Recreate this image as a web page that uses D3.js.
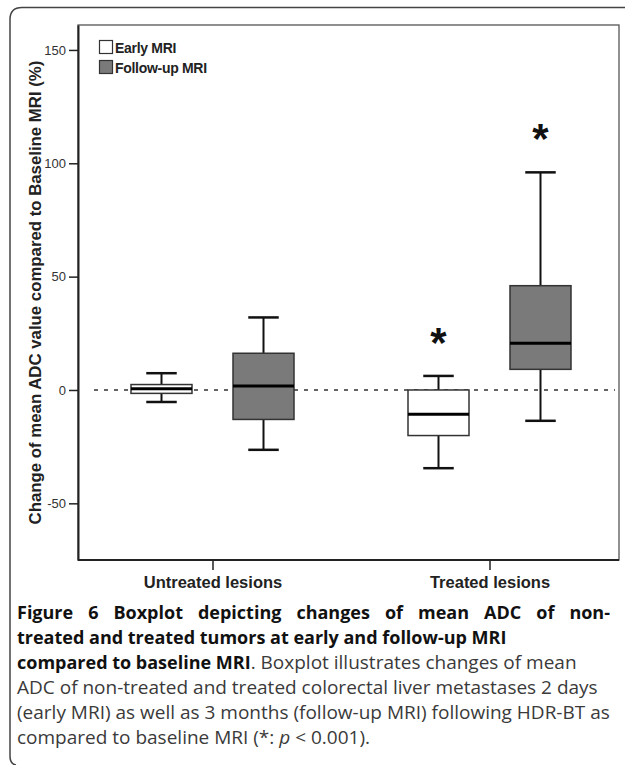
<!DOCTYPE html>
<html>
<head>
<meta charset="utf-8">
<script src="https://cdn.jsdelivr.net/npm/d3@7"></script>
<style>
  body { margin: 0; background: #fff; }
  svg { display: block; }
</style>
</head>
<body>
<div id="chart"></div>
<script>
// Data
const groups = ["Untreated lesions", "Treated lesions"];
const series = ["Early MRI", "Follow-up MRI"];
const boxGroup = ["Untreated lesions", "Untreated lesions", "Treated lesions", "Treated lesions"];
const boxSeries = ["Early MRI", "Follow-up MRI", "Early MRI", "Follow-up MRI"];
const whiskerMin = [-5.3, -26.4, -34.5, -13.6];
const q1 = [-1.5, -13.0, -20.1, 9.1];
const median = [0.5, 1.8, -10.7, 20.6];
const q3 = [2.4, 16.2, 0.0, 46.0];
const whiskerMax = [7.4, 32.0, 6.2, 96.0];
const significant = [false, false, true, true];
const yTicks = [-50, 0, 50, 100, 150];

const captionLines = [
  [{t: "Figure 6 Boxplot depicting changes of mean ADC of non-", b: true}],
  [{t: "treated and treated tumors at early and follow-up MRI", b: true}],
  [{t: "compared to baseline MRI", b: true}, {t: ". Boxplot illustrates changes of mean"}],
  [{t: "ADC of non-treated and treated colorectal liver metastases 2 days"}],
  [{t: "(early MRI) as well as 3 months (follow-up MRI) following HDR-BT as"}],
  [{t: "compared to baseline MRI (*: "}, {t: "p", i: true}, {t: " < 0.001)."}]
];

let svgWidth = 625;
let svgHeight = 765;

let margin = {top: 25, right: 6, bottom: 205, left: 78};
let width = svgWidth - margin.left - margin.right;
let height = svgHeight - margin.top - margin.bottom;

let svg = d3.select("#chart")
  .append("svg")
  .attr("width", svgWidth)
  .attr("height", svgHeight);

// outer figure frame (top + left, rounded corners)
svg.append("path")
  .attr("d", "M625,7.5 H22 Q10,7.5 10,19.5 V756 Q10,764 16,765")
  .attr("fill", "none")
  .attr("stroke", "#444")
  .attr("stroke-width", 1.5);

let chartGroup = svg.append("g")
  .attr("transform", `translate(${margin.left}, ${margin.top})`);

// scales
let yScale = d3.scaleLinear()
  .domain([-75, 161])
  .range([height, 0]);

let xGroup = d3.scalePoint()
  .domain(groups)
  .range([134.5, 411.5]);

let xInner = d3.scalePoint()
  .domain(series)
  .range([-51, 51]);

let boxW = 61;
let fills = d3.scaleOrdinal().domain(series).range(["#ffffff", "#7a7a7a"]);

// plot frame
chartGroup.append("rect")
  .attr("x", 0).attr("y", 0)
  .attr("width", width).attr("height", height)
  .attr("fill", "none")
  .attr("stroke", "#555")
  .attr("stroke-width", 1.3);

// axes
let leftAxis = d3.axisLeft(yScale).tickValues(yTicks).tickFormat(d => String(d))
  .tickSize(9).tickSizeOuter(0).tickPadding(3);
let yAxisG = chartGroup.append("g").call(leftAxis);
yAxisG.select(".domain").attr("stroke", "#222").attr("stroke-width", 2);
yAxisG.selectAll(".tick line").attr("stroke", "#222").attr("stroke-width", 1.5);
yAxisG.selectAll(".tick text")
  .attr("font-family", "Liberation Sans, Arial, sans-serif")
  .attr("font-size", "13px")
  .attr("fill", "#333");

let bottomAxis = d3.axisBottom(xGroup).tickSize(10).tickSizeOuter(0).tickPadding(6);
let xAxisG = chartGroup.append("g")
  .attr("transform", `translate(0, ${height})`)
  .call(bottomAxis);
xAxisG.select(".domain").attr("d", `M0,0H${width}`).attr("stroke", "#222").attr("stroke-width", 2);
xAxisG.selectAll(".tick line").attr("stroke", "#222").attr("stroke-width", 1.5);
xAxisG.selectAll(".tick text")
  .attr("font-family", "Liberation Sans Narrow, Arial Narrow, Liberation Sans, sans-serif")
  .attr("font-weight", "bold")
  .attr("font-size", "16.5px")
  .attr("fill", "#222");

// reference line at 0
chartGroup.append("line")
  .attr("x1", 16).attr("x2", width - 4)
  .attr("y1", yScale(0)).attr("y2", yScale(0))
  .attr("stroke", "#333")
  .attr("stroke-width", 1.5)
  .attr("stroke-dasharray", "4,6");

// boxes
let boxes = boxGroup.map((g, i) => ({
  cx: xGroup(g) + xInner(boxSeries[i]),
  s: boxSeries[i],
  lo: whiskerMin[i], q1: q1[i], med: median[i], q3: q3[i], hi: whiskerMax[i],
  sig: significant[i]
}));

let boxG = chartGroup.selectAll(".box")
  .data(boxes)
  .enter()
  .append("g")
  .attr("class", "box");

boxG.append("line")
  .attr("x1", d => d.cx).attr("x2", d => d.cx)
  .attr("y1", d => yScale(d.hi)).attr("y2", d => yScale(d.q3))
  .attr("stroke", "#111").attr("stroke-width", 2);
boxG.append("line")
  .attr("x1", d => d.cx).attr("x2", d => d.cx)
  .attr("y1", d => yScale(d.q1)).attr("y2", d => yScale(d.lo))
  .attr("stroke", "#111").attr("stroke-width", 2);
boxG.append("line")
  .attr("x1", d => d.cx - boxW / 4).attr("x2", d => d.cx + boxW / 4)
  .attr("y1", d => yScale(d.hi)).attr("y2", d => yScale(d.hi))
  .attr("stroke", "#111").attr("stroke-width", 2.5);
boxG.append("line")
  .attr("x1", d => d.cx - boxW / 4).attr("x2", d => d.cx + boxW / 4)
  .attr("y1", d => yScale(d.lo)).attr("y2", d => yScale(d.lo))
  .attr("stroke", "#111").attr("stroke-width", 2.5);
boxG.append("rect")
  .attr("x", d => d.cx - boxW / 2)
  .attr("y", d => yScale(d.q3))
  .attr("width", boxW)
  .attr("height", d => yScale(d.q1) - yScale(d.q3))
  .attr("fill", d => fills(d.s))
  .attr("stroke", "#333")
  .attr("stroke-width", 1.5);
boxG.append("line")
  .attr("x1", d => d.cx - boxW / 2).attr("x2", d => d.cx + boxW / 2)
  .attr("y1", d => yScale(d.med)).attr("y2", d => yScale(d.med))
  .attr("stroke", "#000").attr("stroke-width", 3);

// significance asterisks
boxG.filter(d => d.sig)
  .append("text")
  .attr("x", d => d.cx)
  .attr("y", d => yScale(d.hi) - 19)
  .attr("text-anchor", "middle")
  .attr("font-family", "Liberation Sans, Arial, sans-serif")
  .attr("font-weight", "bold")
  .attr("font-size", "42px")
  .attr("fill", "#111")
  .text("*");

// y axis title
chartGroup.append("text")
  .attr("transform", "rotate(-90)")
  .attr("x", -height / 2)
  .attr("y", 35 - margin.left)
  .attr("dy", "0.35em")
  .attr("text-anchor", "middle")
  .attr("font-family", "Liberation Sans, Arial, sans-serif")
  .attr("font-weight", "bold")
  .attr("font-size", "16.8px")
  .attr("fill", "#222")
  .text("Change of mean ADC value compared to Baseline MRI (%)");

// legend
let legend = chartGroup.selectAll(".legend")
  .data(series)
  .enter()
  .append("g")
  .attr("class", "legend")
  .attr("transform", (d, i) => `translate(21.5, ${15.5 + i * 20})`);
legend.append("rect")
  .attr("width", 13).attr("height", 13)
  .attr("fill", d => fills(d))
  .attr("stroke", "#333").attr("stroke-width", 1.2);
legend.append("text")
  .attr("x", 15.5).attr("y", 12.5)
  .attr("font-family", "Liberation Sans, Arial, sans-serif")
  .attr("font-weight", "bold")
  .attr("font-size", "14px")
  .attr("letter-spacing", "-0.3px")
  .attr("fill", "#222")
  .text(d => d);

// caption
let caption = svg.append("text")
  .attr("font-family", "Open Sans, Noto Sans, sans-serif");
captionLines.forEach((line, li) => {
  let first = true;
  line.forEach(part => {
    let ts = caption.append("tspan")
      .attr("font-weight", part.b ? "bold" : "normal")
      .attr("font-style", part.i ? "italic" : "normal")
      .attr("font-size", part.b ? "18px" : "19px")
      .attr("fill", part.b ? "#111" : "#3a3a3a")
      .text(part.t);
    if (first) {
      ts.attr("x", 17).attr("y", 619 + li * 25);
      first = false;
    }
    if (li === 0) ts.attr("class", "justify");
  });
});
// justify the first caption line
let j = caption.select(".justify");
let w = j.node().getComputedTextLength();
let gaps = (j.text().match(/ /g) || []).length;
j.attr("word-spacing", Math.max(0, (593 - w) / gaps));
</script>
</body>
</html>
